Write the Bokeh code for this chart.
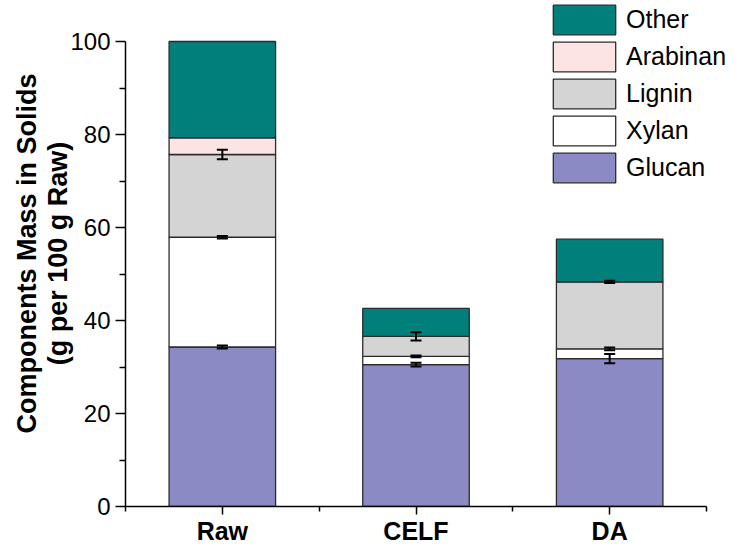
from bokeh.plotting import figure
from bokeh.models import (ColumnDataSource, Whisker, TeeHead, FixedTicker,
                          Legend, LegendItem, Range1d)
from bokeh.embed import file_html
from bokeh.resources import INLINE

# ---- data ----
categories = ["Raw", "CELF", "DA"]
components = ["Glucan", "Xylan", "Lignin", "Arabinan", "Other"]
glucan = [34.3, 30.5, 31.8]
xylan = [23.6, 1.8, 2.1]
lignin = [17.8, 4.3, 14.4]
arabinan = [3.6, 0.0, 0.0]
other = [20.7, 6.0, 9.2]
glucan_err = [0.3, 0.4, 1.0]
xylan_err = [0.25, 0.2, 0.3]
lignin_err = [1.0, 0.9, 0.25]
colors = ["#8b8ac4", "#ffffff", "#d4d4d4", "#fde4e4", "#007f7b"]
y_ticks = [0, 20, 40, 60, 80, 100]

FONT = "Liberation Sans"

# layout (pixels)
FRAME_W, FRAME_H = 609, 506
PLOT_W, PLOT_H = 581, 465      # part of the frame covered by the axes
y_max = y_ticks[-1]
n = len(categories)

x = [i + 0.5 for i in range(n)]
data = {"x": x, "Glucan": glucan, "Xylan": xylan, "Lignin": lignin,
        "Arabinan": arabinan, "Other": other}
src = ColumnDataSource(data)

p = figure(frame_width=FRAME_W, frame_height=FRAME_H,
           min_border_left=125, min_border_right=0, min_border_top=0,
           min_border_bottom=0,
           x_range=Range1d(0, n * FRAME_W / PLOT_W),
           y_range=Range1d(0, y_max * FRAME_H / PLOT_H),
           output_backend="svg", toolbar_location=None)
p.xgrid.visible = False
p.ygrid.visible = False
p.outline_line_color = None
p.background_fill_color = "white"
p.border_fill_color = "white"

renderers = p.vbar_stack(components, x="x", width=0.55, color=colors,
                         line_color="#2b2b2b", line_width=1.3, source=src)

# error bars at the tops of glucan, xylan, lignin
ex, lo, up = [], [], []
for i in range(n):
    tops = [glucan[i], glucan[i] + xylan[i], glucan[i] + xylan[i] + lignin[i]]
    errs = [glucan_err[i], xylan_err[i], lignin_err[i]]
    for t, e in zip(tops, errs):
        ex.append(x[i])
        lo.append(t - e)
        up.append(t + e)
esrc = ColumnDataSource(dict(x=ex, lower=lo, upper=up))
w = Whisker(base="x", lower="lower", upper="upper", dimension="height", source=esrc,
            line_color="black", line_width=2, level="overlay",
            upper_head=TeeHead(size=11, line_width=2, line_color="black"),
            lower_head=TeeHead(size=11, line_width=2, line_color="black"))
p.add_layout(w)

# axes
p.xaxis.bounds = (0, n)
p.xaxis.ticker = FixedTicker(ticks=x, minor_ticks=list(range(n + 1)))
p.xaxis.major_label_overrides = {xx: c for xx, c in zip(x, categories)}
p.xaxis.major_label_text_font = FONT
p.xaxis.major_label_text_font_style = "bold"
p.xaxis.major_label_text_font_size = "25px"
p.xaxis.major_label_text_color = "black"
p.xaxis.major_label_standoff = 2
p.xaxis.major_tick_in = 0
p.xaxis.major_tick_out = 8
p.xaxis.minor_tick_in = 0
p.xaxis.minor_tick_out = 5

minor_y = [(a + b) / 2 for a, b in zip(y_ticks[:-1], y_ticks[1:])]
p.yaxis.bounds = (0, y_max)
p.yaxis.ticker = FixedTicker(ticks=y_ticks, minor_ticks=minor_y)
p.yaxis.major_label_text_font = FONT
p.yaxis.major_label_text_font_size = "24px"
p.yaxis.major_label_text_color = "black"
p.yaxis.major_label_standoff = 5
p.yaxis.major_tick_in = 0
p.yaxis.major_tick_out = 10
p.yaxis.minor_tick_in = 0
p.yaxis.minor_tick_out = 6
p.yaxis.axis_label = "Components Mass in Solids\n(g per 100 g Raw)"
p.yaxis.axis_label_text_font = FONT
p.yaxis.axis_label_text_font_style = "bold"
p.yaxis.axis_label_text_font_size = "27px"
p.yaxis.axis_label_text_color = "black"
p.yaxis.axis_label_standoff = -6
p.yaxis.axis_label_text_line_height = 1.05

for ax in (p.xaxis, p.yaxis):
    ax.axis_line_color = "black"
    ax.axis_line_width = 1.5
    ax.major_tick_line_color = "black"
    ax.major_tick_line_width = 1.5
    ax.minor_tick_line_color = "black"
    ax.minor_tick_line_width = 1.5

# legend (top-to-bottom: Other ... Glucan)
items = [LegendItem(label=name, renderers=[r])
         for name, r in reversed(list(zip(components, renderers)))]
legend = Legend(items=items, location=(420, 320), orientation="vertical",
                glyph_width=78, glyph_height=37, label_height=37,
                spacing=-3, padding=0, margin=0, label_standoff=3,
                border_line_color=None, background_fill_alpha=0,
                label_text_font=FONT, label_text_font_size="25px",
                label_text_color="black")
p.add_layout(legend)

open("out.html", "w").write(file_html(p, INLINE))
